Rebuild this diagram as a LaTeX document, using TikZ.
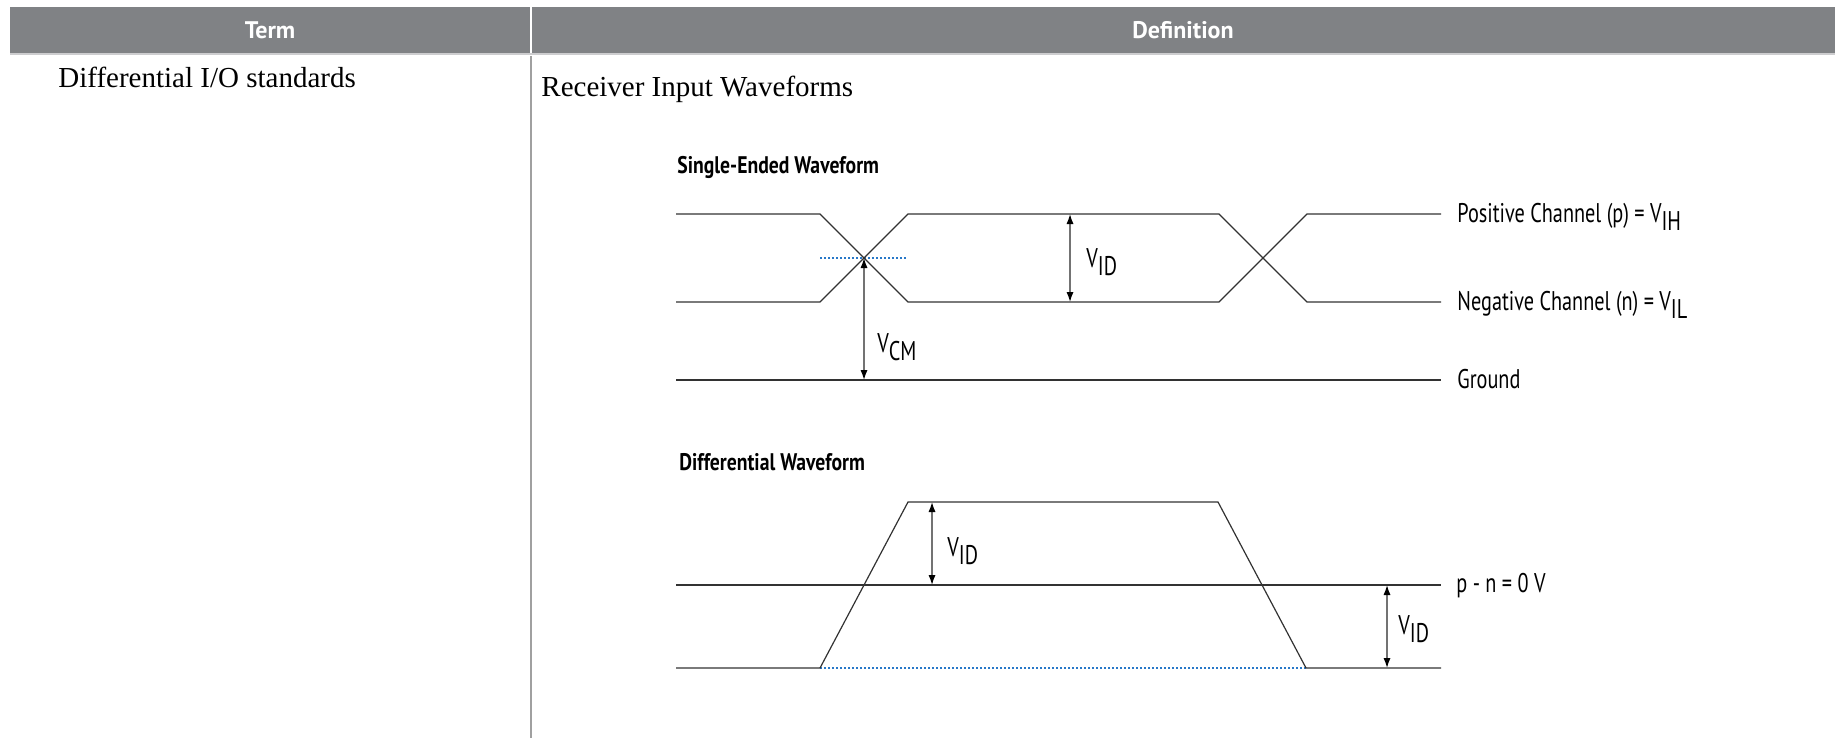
\documentclass[tikz,border=0pt]{standalone}
\usepackage{fontspec}
\setmainfont{Liberation Serif}
\newfontfamily\labelfont[FakeStretch=0.75]{PT Sans}
\newfontfamily\titlefont[FakeStretch=0.82]{PT Sans}
\newfontfamily\headfont{PT Sans}
\usetikzlibrary{arrows.meta}
\definecolor{hdr}{RGB}{128,130,133}
\definecolor{hdrline}{RGB}{205,205,207}
\definecolor{divc}{RGB}{160,160,160}
\definecolor{wave}{RGB}{50,50,50}
\definecolor{arr}{RGB}{115,115,115}
\definecolor{blu}{RGB}{40,120,200}
\newcommand\Vs[1]{V\raisebox{-0.3em}{#1}}
\begin{document}
\begin{tikzpicture}[x=0.5pt,y=-0.5pt,
  hdrtext/.style={text=white,font=\headfont\bfseries\fontsize{12}{14}\selectfont,inner sep=0},
  body/.style={font=\fontsize{14.5}{17}\selectfont,anchor=base west,inner sep=0},
  lbl/.style={font=\labelfont\fontsize{13.5}{16}\selectfont,anchor=base west,inner sep=0},
  ttl/.style={font=\titlefont\bfseries\fontsize{12}{14}\selectfont,anchor=base west,inner sep=0},
  wv/.style={draw=wave,line width=0.6pt},
  dim/.style={draw=arr,line width=0.7pt,
    {Latex[length=5pt,width=3.6pt,color=black]}-{Latex[length=5pt,width=3.6pt,color=black]}},
  dots/.style={draw=blu,line width=0.6pt,dash pattern=on 1pt off 1pt}]
\useasboundingbox (0,0) rectangle (1835,738);
% header
\fill[hdr] (10,7) rectangle (530,53);
\fill[hdr] (532,7) rectangle (1835,53);
\fill[hdrline] (10,53) rectangle (1835,55);
\node[hdrtext] (term) at (270,30) {Term};
\node[hdrtext] (defn) at (1183,30) {Definition};
% column divider
\draw[divc,line width=0.8pt] (531,56) -- (531,738);
% body text
\node[body] (t1) at (58,88) {Differential I/O standards};
\node[body] (t2) at (541,97) {Receiver Input Waveforms};
% titles
\node[ttl] (ttlse) at (677,173) {Single-Ended Waveform};
\node[ttl] (ttldf) at (679,470) {Differential Waveform};
% single-ended coordinates
\coordinate (pA) at (676,214); \coordinate (pB) at (820,214); \coordinate (pC) at (908,302);
\coordinate (pD) at (1219,302); \coordinate (pE) at (1307,214); \coordinate (pF) at (1441,214);
\coordinate (nA) at (676,302); \coordinate (nB) at (820,302); \coordinate (nC) at (908,214);
\coordinate (nD) at (1219,214); \coordinate (nE) at (1307,302); \coordinate (nF) at (1441,302);
\coordinate (gA) at (676,380); \coordinate (gB) at (1441,380);
\coordinate (xc) at (864,258); \coordinate (xg) at (864,380);
\coordinate (bl1) at (820,258); \coordinate (bl2) at (908,258);
\coordinate (vt) at (1070,214); \coordinate (vb) at (1070,302);
\draw[dots] (bl1) -- (bl2);
\draw[wv] (pA) -- (pB) -- (pC) -- (pD) -- (pE) -- (pF);
\draw[wv] (nA) -- (nB) -- (nC) -- (nD) -- (nE) -- (nF);
\draw[wv] (gA) -- (gB);
\draw[dim] (xc) -- (xg);
\draw[dim] (vt) -- (vb);
\node[lbl] (vid1) at (1086,267) {\Vs{ID}};
\node[lbl] (vcm) at (877,352) {\Vs{CM}};
\node[lbl] (pos) at (1457,222) {Positive Channel (p) = \Vs{IH}};
\node[lbl] (neg) at (1457,310) {Negative Channel (n) = \Vs{IL}};
\node[lbl] (gnd) at (1457,388) {Ground};
% differential coordinates
\coordinate (zA) at (676,585); \coordinate (zB) at (1441,585);
\coordinate (dA) at (676,668); \coordinate (dB) at (820,668); \coordinate (dC) at (908,502);
\coordinate (dD) at (1218,502); \coordinate (dE) at (1306,668); \coordinate (dF) at (1441,668);
\coordinate (u1) at (932,502); \coordinate (u2) at (932,585);
\coordinate (r1) at (1387,585); \coordinate (r2) at (1387,668);
\draw[dots] (dB) -- (dE);
\draw[wv] (zA) -- (zB);
\draw[wv] (dA) -- (dB) -- (dC) -- (dD) -- (dE) -- (dF);
\draw[dim] (u1) -- (u2);
\draw[dim] (r1) -- (r2);
\node[lbl] (vid2) at (947,556) {\Vs{ID}};
\node[lbl] (vid3) at (1398,634) {\Vs{ID}};
\node[lbl] (pn) at (1456,592) {p - n = 0 V};
\end{tikzpicture}
\end{document}
